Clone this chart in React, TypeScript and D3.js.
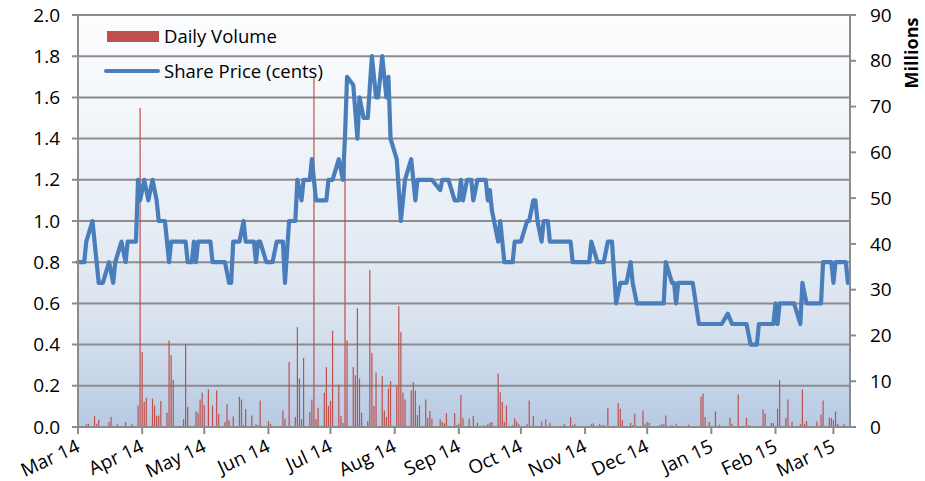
import React from 'react';
import * as d3 from 'd3';

// share price in cents
const priceData: [string, number][] = [
  ['2014-03-01', 0.8], ['2014-03-04', 0.8], ['2014-03-05', 0.9], ['2014-03-08', 1.0],
  ['2014-03-11', 0.7], ['2014-03-13', 0.7], ['2014-03-16', 0.8], ['2014-03-18', 0.7],
  ['2014-03-19', 0.8], ['2014-03-22', 0.9], ['2014-03-24', 0.8], ['2014-03-25', 0.9],
  ['2014-03-29', 0.9], ['2014-03-30', 1.2], ['2014-03-31', 1.1], ['2014-04-02', 1.2],
  ['2014-04-04', 1.1], ['2014-04-06', 1.2], ['2014-04-08', 1.1], ['2014-04-09', 1.0],
  ['2014-04-12', 1.0], ['2014-04-14', 0.8], ['2014-04-15', 0.9], ['2014-04-22', 0.9],
  ['2014-04-23', 0.8], ['2014-04-25', 0.8], ['2014-04-26', 0.9], ['2014-04-27', 0.8],
  ['2014-04-28', 0.9], ['2014-05-04', 0.9], ['2014-05-05', 0.8], ['2014-05-11', 0.8],
  ['2014-05-13', 0.7], ['2014-05-14', 0.7], ['2014-05-15', 0.9], ['2014-05-18', 0.9],
  ['2014-05-20', 1.0], ['2014-05-21', 0.9], ['2014-05-25', 0.9], ['2014-05-26', 0.8],
  ['2014-05-27', 0.9], ['2014-05-28', 0.9], ['2014-05-31', 0.8], ['2014-06-03', 0.8],
  ['2014-06-05', 0.9], ['2014-06-08', 0.9], ['2014-06-09', 0.7], ['2014-06-11', 1.0],
  ['2014-06-14', 1.0], ['2014-06-15', 1.2], ['2014-06-17', 1.1], ['2014-06-18', 1.2],
  ['2014-06-21', 1.2], ['2014-06-22', 1.3], ['2014-06-24', 1.1], ['2014-06-29', 1.1],
  ['2014-06-30', 1.2], ['2014-07-02', 1.2], ['2014-07-05', 1.3], ['2014-07-07', 1.2],
  ['2014-07-08', 1.41], ['2014-07-09', 1.7], ['2014-07-12', 1.66], ['2014-07-14', 1.4],
  ['2014-07-15', 1.6], ['2014-07-17', 1.5], ['2014-07-19', 1.5], ['2014-07-21', 1.8],
  ['2014-07-23', 1.6], ['2014-07-24', 1.6], ['2014-07-26', 1.8], ['2014-07-28', 1.6],
  ['2014-07-29', 1.7], ['2014-07-30', 1.4], ['2014-08-02', 1.3], ['2014-08-04', 1.0],
  ['2014-08-06', 1.2], ['2014-08-09', 1.3], ['2014-08-11', 1.1], ['2014-08-12', 1.2],
  ['2014-08-19', 1.2], ['2014-08-23', 1.15], ['2014-08-24', 1.2], ['2014-08-27', 1.2],
  ['2014-08-30', 1.1], ['2014-09-01', 1.1], ['2014-09-02', 1.2], ['2014-09-03', 1.1],
  ['2014-09-05', 1.2], ['2014-09-07', 1.2], ['2014-09-08', 1.1], ['2014-09-10', 1.2],
  ['2014-09-14', 1.2], ['2014-09-15', 1.1], ['2014-09-16', 1.15], ['2014-09-17', 1.05],
  ['2014-09-20', 0.9], ['2014-09-21', 1.0], ['2014-09-23', 0.8], ['2014-09-27', 0.8],
  ['2014-09-28', 0.9], ['2014-10-01', 0.9], ['2014-10-04', 1.0], ['2014-10-05', 1.0],
  ['2014-10-07', 1.1], ['2014-10-08', 1.1], ['2014-10-09', 1.0], ['2014-10-11', 0.9],
  ['2014-10-12', 1.0], ['2014-10-14', 1.0], ['2014-10-15', 0.9], ['2014-10-25', 0.9],
  ['2014-10-26', 0.8], ['2014-11-03', 0.8], ['2014-11-04', 0.9], ['2014-11-07', 0.8],
  ['2014-11-10', 0.8], ['2014-11-12', 0.9], ['2014-11-14', 0.9], ['2014-11-16', 0.6],
  ['2014-11-18', 0.7], ['2014-11-21', 0.7], ['2014-11-23', 0.8], ['2014-11-24', 0.7],
  ['2014-11-26', 0.6], ['2014-12-09', 0.6], ['2014-12-10', 0.8], ['2014-12-13', 0.7],
  ['2014-12-14', 0.7], ['2014-12-15', 0.6], ['2014-12-16', 0.7], ['2014-12-23', 0.7],
  ['2014-12-26', 0.5], ['2015-01-06', 0.5], ['2015-01-09', 0.55], ['2015-01-11', 0.5],
  ['2015-01-18', 0.5], ['2015-01-20', 0.4], ['2015-01-23', 0.4], ['2015-01-24', 0.5],
  ['2015-01-31', 0.5], ['2015-02-01', 0.6], ['2015-02-02', 0.5], ['2015-02-03', 0.6],
  ['2015-02-10', 0.6], ['2015-02-13', 0.5], ['2015-02-14', 0.7], ['2015-02-16', 0.6],
  ['2015-02-23', 0.6], ['2015-02-24', 0.8], ['2015-02-28', 0.8], ['2015-03-01', 0.7],
  ['2015-03-02', 0.8], ['2015-03-07', 0.8], ['2015-03-08', 0.7],
];

// daily volume in millions
const volumeData: [string, number][] = [
  ['2014-03-05', 0.6], ['2014-03-06', 0.7], ['2014-03-09', 2.4], ['2014-03-10', 0.7],
  ['2014-03-11', 1.6], ['2014-03-12', 0.2], ['2014-03-16', 1.1], ['2014-03-17', 2.2],
  ['2014-03-20', 0.6], ['2014-03-24', 1.1], ['2014-03-27', 0.6], ['2014-03-30', 4.7],
  ['2014-03-31', 69.7], ['2014-04-01', 16.4], ['2014-04-02', 5.5], ['2014-04-03', 6.4],
  ['2014-04-06', 6.2], ['2014-04-07', 4.7], ['2014-04-08', 2.4], ['2014-04-09', 2.5],
  ['2014-04-10', 5.7], ['2014-04-13', 3.1], ['2014-04-14', 18.9], ['2014-04-15', 15.7],
  ['2014-04-16', 10.3], ['2014-04-21', 1.7], ['2014-04-22', 18.1], ['2014-04-23', 4.4],
  ['2014-04-27', 3.4], ['2014-04-28', 3.1], ['2014-04-29', 6.0], ['2014-04-30', 7.5],
  ['2014-05-01', 4.8], ['2014-05-03', 8.2], ['2014-05-05', 4.7], ['2014-05-07', 8.0],
  ['2014-05-08', 2.8], ['2014-05-11', 1.1], ['2014-05-12', 5.0], ['2014-05-13', 1.5],
  ['2014-05-15', 2.3], ['2014-05-18', 6.6], ['2014-05-19', 6.0], ['2014-05-20', 0.4],
  ['2014-05-21', 3.9], ['2014-05-22', 0.2], ['2014-05-24', 2.5], ['2014-05-26', 0.6],
  ['2014-05-27', 0.4], ['2014-05-28', 5.8], ['2014-06-01', 1.3], ['2014-06-02', 0.7],
  ['2014-06-05', 0.2], ['2014-06-08', 3.6], ['2014-06-09', 1.8], ['2014-06-11', 14.2],
  ['2014-06-14', 2.2], ['2014-06-15', 21.8], ['2014-06-16', 10.6], ['2014-06-17', 1.7],
  ['2014-06-18', 15.1], ['2014-06-21', 3.3], ['2014-06-22', 6.0], ['2014-06-23', 76.5],
  ['2014-06-24', 1.7], ['2014-06-25', 4.2], ['2014-06-28', 7.5], ['2014-06-29', 13.1],
  ['2014-06-30', 4.6], ['2014-07-01', 5.7], ['2014-07-02', 21.0], ['2014-07-05', 9.3],
  ['2014-07-06', 2.4], ['2014-07-07', 0.9], ['2014-07-08', 60.0], ['2014-07-09', 18.9],
  ['2014-07-12', 13.1], ['2014-07-13', 11.3], ['2014-07-14', 25.9], ['2014-07-15', 10.6],
  ['2014-07-16', 3.1], ['2014-07-19', 1.3], ['2014-07-20', 34.3], ['2014-07-21', 16.2],
  ['2014-07-22', 4.6], ['2014-07-23', 11.9], ['2014-07-26', 11.1], ['2014-07-27', 3.6],
  ['2014-07-28', 2.2], ['2014-07-29', 8.4], ['2014-07-30', 10.0], ['2014-08-02', 9.0],
  ['2014-08-03', 26.4], ['2014-08-04', 20.7], ['2014-08-05', 7.5], ['2014-08-06', 6.0],
  ['2014-08-09', 8.0], ['2014-08-10', 9.8], ['2014-08-11', 8.0], ['2014-08-12', 2.6],
  ['2014-08-13', 4.7], ['2014-08-16', 6.0], ['2014-08-17', 2.0], ['2014-08-18', 3.5],
  ['2014-08-19', 1.8], ['2014-08-20', 0.2], ['2014-08-23', 1.7], ['2014-08-24', 1.1],
  ['2014-08-25', 0.8], ['2014-08-26', 3.0], ['2014-08-30', 3.0], ['2014-08-31', 0.4],
  ['2014-09-01', 0.7], ['2014-09-02', 7.0], ['2014-09-03', 1.9], ['2014-09-06', 1.8],
  ['2014-09-08', 2.4], ['2014-09-10', 0.9], ['2014-09-13', 0.4], ['2014-09-15', 0.6],
  ['2014-09-16', 0.9], ['2014-09-17', 1.1], ['2014-09-20', 11.7], ['2014-09-21', 7.6],
  ['2014-09-22', 5.5], ['2014-09-23', 1.1], ['2014-09-24', 4.7], ['2014-09-27', 0.4],
  ['2014-09-28', 1.9], ['2014-09-29', 1.2], ['2014-09-30', 0.6], ['2014-10-04', 0.6],
  ['2014-10-05', 5.8], ['2014-10-07', 2.4], ['2014-10-11', 1.2], ['2014-10-13', 1.7],
  ['2014-10-15', 0.9], ['2014-10-19', 0.2], ['2014-10-22', 0.6], ['2014-10-25', 2.2],
  ['2014-10-26', 0.4], ['2014-10-27', 0.7], ['2014-10-28', 0.2], ['2014-11-04', 0.6],
  ['2014-11-05', 0.8], ['2014-11-08', 0.6], ['2014-11-09', 0.4], ['2014-11-10', 0.4],
  ['2014-11-12', 4.1], ['2014-11-16', 0.2], ['2014-11-17', 5.2], ['2014-11-18', 4.0],
  ['2014-11-19', 1.5], ['2014-11-23', 0.9], ['2014-11-24', 0.4], ['2014-11-25', 2.9],
  ['2014-11-29', 3.6], ['2014-11-30', 0.6], ['2014-12-01', 1.1], ['2014-12-02', 0.9],
  ['2014-12-07', 0.4], ['2014-12-08', 0.6], ['2014-12-09', 0.6], ['2014-12-10', 2.5],
  ['2014-12-13', 0.4], ['2014-12-15', 0.7], ['2014-12-21', 0.5], ['2014-12-27', 6.6],
  ['2014-12-28', 7.3], ['2014-12-29', 2.2], ['2014-12-31', 1.1], ['2015-01-03', 3.4],
  ['2015-01-05', 0.5], ['2015-01-10', 2.0], ['2015-01-11', 0.7], ['2015-01-14', 7.1],
  ['2015-01-18', 2.0], ['2015-01-19', 0.4], ['2015-01-24', 0.2], ['2015-01-26', 3.8],
  ['2015-01-27', 2.9], ['2015-01-30', 0.9], ['2015-01-31', 0.9], ['2015-02-02', 4.0],
  ['2015-02-03', 10.2], ['2015-02-06', 2.0], ['2015-02-07', 6.0], ['2015-02-09', 1.1],
  ['2015-02-13', 0.6], ['2015-02-14', 8.2], ['2015-02-15', 0.7], ['2015-02-16', 1.3],
  ['2015-02-21', 1.2], ['2015-02-23', 2.7], ['2015-02-24', 5.8], ['2015-02-27', 2.0],
  ['2015-02-28', 2.0], ['2015-03-01', 1.5], ['2015-03-02', 3.4], ['2015-03-03', 0.7],
  ['2015-03-06', 0.6],
];

const monthTicks = [
  '2014-03-01', '2014-04-01', '2014-05-01', '2014-06-01', '2014-07-01', '2014-08-01',
  '2014-09-01', '2014-10-01', '2014-11-01', '2014-12-01', '2015-01-01', '2015-02-01', '2015-03-01',
];
const monthLabels = [
  'Mar 14', 'Apr 14', 'May 14', 'Jun 14', 'Jul 14', 'Aug 14',
  'Sep 14', 'Oct 14', 'Nov 14', 'Dec 14', 'Jan 15', 'Feb 15', 'Mar 15',
];
const priceTicks = [0, 0.2, 0.4, 0.6, 0.8, 1.0, 1.2, 1.4, 1.6, 1.8, 2.0];
const volumeTicks = [0, 10, 20, 30, 40, 50, 60, 70, 80, 90];

const W = 925, H = 481;
const margin = { top: 15, right: 75, bottom: 54, left: 78 };
const width = W - margin.left - margin.right;
const height = H - margin.top - margin.bottom;

const parse = d3.utcParse('%Y-%m-%d');
const font = '"Open Sans", "Noto Sans", sans-serif';
const gridColor = '#8c8c8c';

export default function App() {
  const x = d3.scaleUtc()
    .domain([parse('2014-03-01')!, parse('2015-03-09')!])
    .range([0, width]);
  const yL = d3.scaleLinear().domain([0, 2]).range([height, 0]);
  const yR = d3.scaleLinear().domain([0, 90]).range([height, 0]);

  const line = d3.line<[string, number]>()
    .x(d => x(parse(d[0])!))
    .y(d => yL(d[1]));

  return (
    <svg width={W} height={H} style={{ position: 'absolute', left: 0, top: 0, fontFamily: font }}>
      <defs>
        <linearGradient id="bg" x1="0" y1="0" x2="0" y2="1">
          <stop offset="0" stopColor="#fcfdfe" />
          <stop offset="0.5" stopColor="#e8eef6" />
          <stop offset="0.75" stopColor="#d8e2ef" />
          <stop offset="1" stopColor="#b6cae3" />
        </linearGradient>
      </defs>
      <g transform={`translate(${margin.left},${margin.top})`}>
        <rect width={width} height={height} fill="url(#bg)" />

        {priceTicks.map(t => (
          <line key={t} x1={-6} x2={width} y1={yL(t)} y2={yL(t)} stroke={gridColor} strokeWidth={2} />
        ))}

        {volumeData.map(d => {
          const v = yR(d[1]);
          return (
            <rect key={d[0]} x={x(parse(d[0])!) - 0.6} width={1.2} y={v}
              height={height - v} fill="#c0504d" />
          );
        })}

        <path d={line(priceData) || ''} fill="none" stroke="#4a7ebb" strokeWidth={4.2}
          strokeLinejoin="round" strokeLinecap="round" />

        {/* axes */}
        <line x1={0} x2={0} y1={0} y2={height} stroke={gridColor} strokeWidth={2} />
        <line x1={width} x2={width} y1={0} y2={height} stroke={gridColor} strokeWidth={2} />
        <line x1={0} x2={width} y1={height} y2={height} stroke={gridColor} strokeWidth={2} />

        {priceTicks.map(t => (
          <text key={t} x={-18} y={yL(t)} dy="0.35em" textAnchor="end" fontSize={19} fill="#000">
            {d3.format('.1f')(t)}
          </text>
        ))}

        {volumeTicks.map(t => (
          <g key={t}>
            <line x1={width} x2={width + 6} y1={yR(t)} y2={yR(t)} stroke={gridColor} strokeWidth={2} />
            <text x={width + 20} y={yR(t)} dy="0.35em" fontSize={19} fill="#000">{t}</text>
          </g>
        ))}

        {monthTicks.map((m, i) => {
          const px = x(parse(m)!);
          return (
            <g key={m}>
              <line x1={px} x2={px} y1={height} y2={height + 7} stroke={gridColor} strokeWidth={2} />
              <text transform={`translate(${px + 3},${height + 24}) rotate(-25)`} textAnchor="end"
                fontSize={19} fill="#000">{monthLabels[i]}</text>
            </g>
          );
        })}
      </g>

      <text transform="translate(918,53) rotate(-90)" textAnchor="middle" fontSize={18}
        fontWeight="bold" fill="#000">Millions</text>

      {/* legend */}
      <rect x={107} y={31} width={52} height={11} fill="#c0504d" />
      <text x={164} y={43} fontSize={18.5} fill="#000">Daily Volume</text>
      <line x1={106} x2={158} y1={71} y2={71} stroke="#4a7ebb" strokeWidth={4} strokeLinecap="round" />
      <text x={164} y={78} fontSize={18.5} fill="#000">Share Price (cents)</text>
    </svg>
  );
}
